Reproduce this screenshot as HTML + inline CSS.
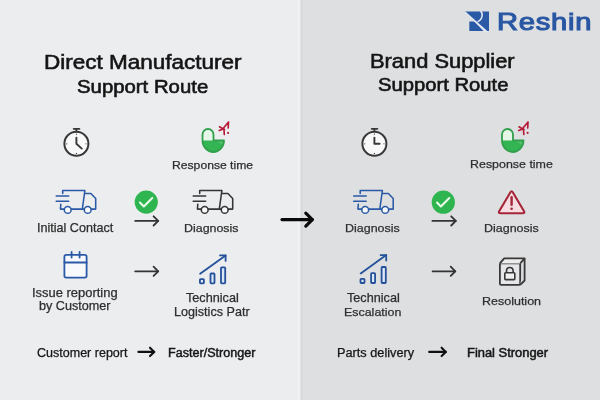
<!DOCTYPE html>
<html><head><meta charset="utf-8"><style>
html,body{margin:0;padding:0}
body{width:600px;height:400px;position:relative;overflow:hidden;font-family:"Liberation Sans",sans-serif;
background:linear-gradient(90deg,#ecedef 0px,#ecedef 296.6px,#f0f1f3 297.9px,#f0f1f3 299.8px,#dadbde 300.8px,#dadbde 302px,#dedfe1 303.5px,#dedfe1 600px)}
.t{position:absolute;white-space:nowrap;line-height:1;will-change:transform}
svg{position:absolute;left:0;top:0}
</style></head><body>
<svg width="600" height="400" viewBox="0 0 600 400">
<g fill="none" stroke="#383838" stroke-width="2" stroke-linecap="round">
<circle cx="76.4" cy="143.8" r="12" fill="#f9f9fa"/>
<line x1="76.4" y1="131.3" x2="76.4" y2="129.3" stroke-width="1.8"/>
<line x1="73.7" y1="128.8" x2="79.4" y2="128.8" stroke-width="1.8"/>
<polyline points="76.4,137.60000000000002 76.4,143.8 81.8,148.6" stroke-linejoin="round" stroke-width="1.9"/>
<g fill="#383838" stroke="none"><circle cx="76.4" cy="134.20000000000002" r="0.6"/><circle cx="76.4" cy="153.4" r="0.6"/>
<circle cx="66.80000000000001" cy="143.8" r="0.6"/><circle cx="86.0" cy="143.8" r="0.6"/></g>
</g><g fill="none" stroke="#383838" stroke-width="2" stroke-linecap="round">
<circle cx="374.4" cy="143.8" r="12" fill="#f9f9fa"/>
<line x1="374.4" y1="131.3" x2="374.4" y2="129.3" stroke-width="1.8"/>
<line x1="371.7" y1="128.8" x2="377.4" y2="128.8" stroke-width="1.8"/>
<polyline points="374.4,137.60000000000002 374.4,143.8 379.6,143.8" stroke-linejoin="round" stroke-width="1.9"/>
<g fill="#383838" stroke="none"><circle cx="374.4" cy="134.20000000000002" r="0.6"/><circle cx="374.4" cy="153.4" r="0.6"/>
<circle cx="364.79999999999995" cy="143.8" r="0.6"/><circle cx="384.0" cy="143.8" r="0.6"/></g>
</g><g transform="translate(201.5,128.5)">
<path d="M1,12 L1,6 A5.5,5.5 0 0 1 12,6 L12,12 Z" fill="#e6f6e6"/>
<path d="M1,12 L22.5,12 A10.75,11.5 0 0 1 1,12 Z" fill="#33b554"/>
<path d="M13,12 L22.5,12 A10.75,11.5 0 0 1 21.5,16.5 Q17,13.5 13,12 Z" fill="#6cca7e" opacity="0.6"/>
<path d="M1,12 L1,6 A5.5,5.5 0 0 1 12,6 L12,12 L22.5,12 A10.75,11.5 0 0 1 1,12 Z" fill="none" stroke="#319f4c" stroke-width="1.8" stroke-linejoin="round"/>
<g stroke="#b51b36" stroke-width="1.65" stroke-linecap="round" fill="none">
<path d="M27,-6.5 L21,0.8 M27,-6.5 L26.7,-0.5 M18,-1.7 L23,1.3 M17.7,2 L22.5,0.2 M22.5,1 L22.8,6"/>
</g>
<circle cx="26.6" cy="4.4" r="1.05" fill="#b51b36"/>
</g><g transform="translate(501,128.5)">
<path d="M1,12 L1,6 A5.5,5.5 0 0 1 12,6 L12,12 Z" fill="#e6f6e6"/>
<path d="M1,12 L22.5,12 A10.75,11.5 0 0 1 1,12 Z" fill="#33b554"/>
<path d="M13,12 L22.5,12 A10.75,11.5 0 0 1 21.5,16.5 Q17,13.5 13,12 Z" fill="#6cca7e" opacity="0.6"/>
<path d="M1,12 L1,6 A5.5,5.5 0 0 1 12,6 L12,12 L22.5,12 A10.75,11.5 0 0 1 1,12 Z" fill="none" stroke="#319f4c" stroke-width="1.8" stroke-linejoin="round"/>
<g stroke="#b51b36" stroke-width="1.65" stroke-linecap="round" fill="none">
<path d="M27,-6.5 L21,0.8 M27,-6.5 L26.7,-0.5 M18,-1.7 L23,1.3 M17.7,2 L22.5,0.2 M22.5,1 L22.8,6"/>
</g>
<circle cx="26.6" cy="4.4" r="1.05" fill="#b51b36"/>
</g><g transform="translate(62.7,190.5)" fill="none" stroke="#2a5aa6" stroke-width="1.55" stroke-linejoin="round" stroke-linecap="round">
<path d="M0,3 L0,0 L22.2,0 L19.6,18.6"/>
<path d="M-1.9,13.8 L-2.3,18.6 L1.6,18.6 M8.4,18.6 L21.6,18.6 M28.4,18.6 L33,18.6 L33,8 L28.2,3 L22.2,3"/>
<path d="M-6.5,5.5 L6,5.5 M-6.5,10.7 L6,10.7"/>
<circle cx="5" cy="19.4" r="3.4" fill="#fafafa"/>
<circle cx="25" cy="19.4" r="3.4" fill="#fafafa"/>
</g><g transform="translate(199.7,190.5)" fill="none" stroke="#353535" stroke-width="1.55" stroke-linejoin="round" stroke-linecap="round">
<path d="M0,3 L0,0 L22.2,0 L19.6,18.6"/>
<path d="M-1.9,13.8 L-2.3,18.6 L1.6,18.6 M8.4,18.6 L21.6,18.6 M28.4,18.6 L33,18.6 L33,8 L28.2,3 L22.2,3"/>
<path d="M-6.5,5.5 L6,5.5 M-6.5,10.7 L6,10.7"/>
<circle cx="5" cy="19.4" r="3.4" fill="#fafafa"/>
<circle cx="25" cy="19.4" r="3.4" fill="#fafafa"/>
</g><g transform="translate(360.2,190.5)" fill="none" stroke="#2a5aa6" stroke-width="1.55" stroke-linejoin="round" stroke-linecap="round">
<path d="M0,3 L0,0 L22.2,0 L19.6,18.6"/>
<path d="M-1.9,13.8 L-2.3,18.6 L1.6,18.6 M8.4,18.6 L21.6,18.6 M28.4,18.6 L33,18.6 L33,8 L28.2,3 L22.2,3"/>
<path d="M-6.5,5.5 L6,5.5 M-6.5,10.7 L6,10.7"/>
<circle cx="5" cy="19.4" r="3.4" fill="#fafafa"/>
<circle cx="25" cy="19.4" r="3.4" fill="#fafafa"/>
</g><circle cx="146.25" cy="202.1" r="11.6" fill="#2fb550"/>
<polyline points="139.95,202.5 143.85,206.4 152.25,197.9" fill="none" stroke="#e9fbe9" stroke-width="2.1" stroke-linecap="round" stroke-linejoin="round"/><circle cx="443.3" cy="202.2" r="11.6" fill="#2fb550"/>
<polyline points="437.0,202.6 440.90000000000003,206.5 449.3,198.0" fill="none" stroke="#e9fbe9" stroke-width="2.1" stroke-linecap="round" stroke-linejoin="round"/><g fill="none" stroke="#333" stroke-width="1.8" stroke-linecap="round" stroke-linejoin="round">
<line x1="135.2" y1="220.9" x2="158.2" y2="220.9"/><polyline points="153.6,216.3 158.2,220.9 153.6,225.5"/></g><g fill="none" stroke="#333" stroke-width="1.8" stroke-linecap="round" stroke-linejoin="round">
<line x1="432.4" y1="220.9" x2="455.8" y2="220.9"/><polyline points="451.2,216.3 455.8,220.9 451.2,225.5"/></g><g fill="none" stroke="#333" stroke-width="1.8" stroke-linecap="round" stroke-linejoin="round">
<line x1="135.2" y1="271.3" x2="158.2" y2="271.3"/><polyline points="153.6,266.7 158.2,271.3 153.6,275.90000000000003"/></g><g fill="none" stroke="#333" stroke-width="1.8" stroke-linecap="round" stroke-linejoin="round">
<line x1="432.6" y1="271.3" x2="455.3" y2="271.3"/><polyline points="450.7,266.7 455.3,271.3 450.7,275.90000000000003"/></g><g fill="none" stroke="#111" stroke-width="2.1" stroke-linecap="round" stroke-linejoin="round">
<line x1="138.4" y1="351.9" x2="154.2" y2="351.9"/><polyline points="150.0,347.7 154.2,351.9 150.0,356.09999999999997"/></g><g fill="none" stroke="#111" stroke-width="2.1" stroke-linecap="round" stroke-linejoin="round">
<line x1="429.2" y1="351.9" x2="445.8" y2="351.9"/><polyline points="441.6,347.7 445.8,351.9 441.6,356.09999999999997"/></g><g fill="none" stroke="#0a0a0a" stroke-width="3.2" stroke-linecap="round" stroke-linejoin="round">
<line x1="282" y1="219.6" x2="312.3" y2="219.6"/><polyline points="305.8,213.1 312.3,219.6 305.8,226.1"/></g><g fill="none" stroke="#2a5aa6" stroke-width="1.8" stroke-linecap="round">
<rect x="64.4" y="254.9" width="22.2" height="22.7" rx="1.8" fill="#f7f9fc"/>
<line x1="64.4" y1="262.5" x2="86.60000000000001" y2="262.5"/>
<line x1="71.6" y1="252" x2="71.6" y2="257.6"/>
<line x1="79.6" y1="252" x2="79.6" y2="257.6"/></g><g transform="translate(199,278.2)" fill="none" stroke="#24519a" stroke-width="1.8" stroke-linejoin="round" stroke-linecap="round">
<rect x="0.9" y="0.9" width="4" height="4.2" rx="0.7" fill="#dce8f6"/>
<rect x="11.5" y="-4.7" width="4" height="9.8" rx="0.7" fill="#dce8f6"/>
<rect x="22" y="-10.9" width="4.2" height="16" rx="0.7" fill="#dce8f6"/>
<line x1="1.1" y1="-4.5" x2="26.6" y2="-22.8"/>
<polyline points="21,-22.8 26.6,-22.8 26.6,-17.3"/></g><g transform="translate(359.6,277.9)" fill="none" stroke="#24519a" stroke-width="1.8" stroke-linejoin="round" stroke-linecap="round">
<rect x="0.9" y="0.9" width="4" height="4.2" rx="0.7" fill="#dce8f6"/>
<rect x="11.5" y="-4.7" width="4" height="9.8" rx="0.7" fill="#dce8f6"/>
<rect x="22" y="-10.9" width="4.2" height="16" rx="0.7" fill="#dce8f6"/>
<line x1="1.1" y1="-4.5" x2="26.6" y2="-22.8"/>
<polyline points="21,-22.8 26.6,-22.8 26.6,-17.3"/></g><g transform="translate(511.6,189.6)">
<path d="M-1.32,2.84 Q0.00,0.60 1.32,2.84 L12.28,21.36 Q13.60,23.60 11.00,23.60 L-11.00,23.60 Q-13.60,23.60 -12.28,21.36 Z" fill="#f5dde1" stroke="#a52638" stroke-width="2.1" stroke-linejoin="round"/>
<line x1="0" y1="7.6" x2="0" y2="15.2" stroke="#a52638" stroke-width="2.4" stroke-linecap="round"/>
<circle cx="0" cy="19.1" r="1.3" fill="#a52638"/></g><g transform="translate(499,262.5)" fill="none" stroke="#383838" stroke-width="1.8" stroke-linejoin="round">
<rect x="0.9" y="0.9" width="20.3" height="21.5" rx="1.2" fill="#e6e6e8"/>
<path d="M0.9,0.9 L5.2,-4.1 L25.6,-4.1 L21.2,0.9" fill="#ededee"/>
<path d="M25.6,-4.1 L25.6,18 L21.2,22.4" fill="#dcdcde"/>
<path d="M7.5,10.3 L7.5,8.3 A3.3,3.3 0 0 1 14.1,8.3 L14.1,10.3" stroke-width="1.6"/>
<rect x="5.8" y="10.3" width="10" height="6.8" rx="0.8" fill="#f1f1f2" stroke-width="1.6"/>
</g><g>
<path d="M465.1,11.4 L489,11.4 L489,31 L469.3,31 L469.3,21.4 L474.8,21.4 Z" fill="#2a5aa6"/>
<path d="M464.6,11.9 L465.4,11.5 L488.4,32 L484.6,32 Z" fill="#e6ebf3"/>
<path d="M480.4,10.8 C483.2,13 483,19.4 477.6,21.8" fill="none" stroke="#e6ebf3" stroke-width="1.5"/>
</g>
</svg>
<div class="t" style="left:43.58px;top:51.79px;font-size:20.4px;color:#141414;font-weight:400;letter-spacing:0px;-webkit-text-stroke:0.6px #141414;transform-origin:0 0;transform:scaleX(1.1034)">Direct Manufacturer</div>
<div class="t" style="left:77.20px;top:77.95px;font-size:18.8px;color:#141414;font-weight:400;letter-spacing:0px;-webkit-text-stroke:0.6px #141414;transform-origin:0 0;transform:scaleX(1.0833)">Support Route</div>
<div class="t" style="left:370.08px;top:51.40px;font-size:20.2px;color:#141414;font-weight:400;letter-spacing:0px;-webkit-text-stroke:0.6px #141414;transform-origin:0 0;transform:scaleX(1.0827)">Brand Supplier</div>
<div class="t" style="left:378.08px;top:76.44px;font-size:18.6px;color:#141414;font-weight:400;letter-spacing:0px;-webkit-text-stroke:0.6px #141414;transform-origin:0 0;transform:scaleX(1.0882)">Support Route</div>
<div class="t" style="left:171.70px;top:159.02px;font-size:11.65px;color:#2e2e2e;font-weight:400;letter-spacing:0px;-webkit-text-stroke:0.25px #2e2e2e;transform-origin:0 0;transform:scaleX(1.0443)">Response time</div>
<div class="t" style="left:469.52px;top:158.46px;font-size:11.65px;color:#2e2e2e;font-weight:400;letter-spacing:0px;-webkit-text-stroke:0.25px #2e2e2e;transform-origin:0 0;transform:scaleX(1.0675)">Response time</div>
<div class="t" style="left:37.20px;top:223.45px;font-size:11.85px;color:#2e2e2e;font-weight:400;letter-spacing:0px;-webkit-text-stroke:0.25px #2e2e2e;transform-origin:0 0;transform:scaleX(1.0613)">Initial Contact</div>
<div class="t" style="left:184.46px;top:221.96px;font-size:11.65px;color:#2e2e2e;font-weight:400;letter-spacing:0px;-webkit-text-stroke:0.25px #2e2e2e;transform-origin:0 0;transform:scaleX(1.0674)">Diagnosis</div>
<div class="t" style="left:345.02px;top:221.96px;font-size:11.65px;color:#2e2e2e;font-weight:400;letter-spacing:0px;-webkit-text-stroke:0.25px #2e2e2e;transform-origin:0 0;transform:scaleX(1.0711)">Diagnosis</div>
<div class="t" style="left:483.64px;top:221.96px;font-size:11.65px;color:#2e2e2e;font-weight:400;letter-spacing:0px;-webkit-text-stroke:0.25px #2e2e2e;transform-origin:0 0;transform:scaleX(1.0711)">Diagnosis</div>
<div class="t" style="left:32.02px;top:288.36px;font-size:11.95px;color:#2e2e2e;font-weight:400;letter-spacing:0px;-webkit-text-stroke:0.25px #2e2e2e;transform-origin:0 0;transform:scaleX(1.0838)">Issue reporting</div>
<div class="t" style="left:38.58px;top:301.18px;font-size:11.95px;color:#2e2e2e;font-weight:400;letter-spacing:0px;-webkit-text-stroke:0.25px #2e2e2e;transform-origin:0 0;transform:scaleX(1.0564)">by Customer</div>
<div class="t" style="left:186.38px;top:293.42px;font-size:11.95px;color:#2e2e2e;font-weight:400;letter-spacing:0px;-webkit-text-stroke:0.25px #2e2e2e;transform-origin:0 0;transform:scaleX(1.0604)">Technical</div>
<div class="t" style="left:174.02px;top:306.80px;font-size:11.95px;color:#2e2e2e;font-weight:400;letter-spacing:0px;-webkit-text-stroke:0.25px #2e2e2e;transform-origin:0 0;transform:scaleX(1.0555)">Logistics Patr</div>
<div class="t" style="left:347.25px;top:292.68px;font-size:11.95px;color:#2e2e2e;font-weight:400;letter-spacing:0px;-webkit-text-stroke:0.25px #2e2e2e;transform-origin:0 0;transform:scaleX(1.0600)">Technical</div>
<div class="t" style="left:344.02px;top:305.89px;font-size:11.65px;color:#2e2e2e;font-weight:400;letter-spacing:0px;-webkit-text-stroke:0.25px #2e2e2e;transform-origin:0 0;transform:scaleX(1.0674)">Escalation</div>
<div class="t" style="left:481.95px;top:295.27px;font-size:11.65px;color:#2e2e2e;font-weight:400;letter-spacing:0px;-webkit-text-stroke:0.25px #2e2e2e;transform-origin:0 0;transform:scaleX(1.0733)">Resolution</div>
<div class="t" style="left:37.06px;top:346.90px;font-size:12.0px;color:#161616;font-weight:400;letter-spacing:0px;-webkit-text-stroke:0.25px #161616;transform-origin:0 0;transform:scaleX(1.0435)">Customer report</div>
<div class="t" style="left:167.70px;top:346.71px;font-size:12.3px;color:#161616;font-weight:400;letter-spacing:0px;-webkit-text-stroke:0.45px #161616;transform-origin:0 0;transform:scaleX(1.0239)">Faster/Stronger</div>
<div class="t" style="left:336.64px;top:346.90px;font-size:12.0px;color:#161616;font-weight:400;letter-spacing:0px;-webkit-text-stroke:0.25px #161616;transform-origin:0 0;transform:scaleX(1.0609)">Parts delivery</div>
<div class="t" style="left:466.52px;top:346.71px;font-size:12.3px;color:#161616;font-weight:400;letter-spacing:0px;-webkit-text-stroke:0.5px #161616;transform-origin:0 0;transform:scaleX(1.0496)">Final Stronger</div>
<div class="t" style="left:497.30px;top:10.79px;font-size:23.4px;color:#2957a3;font-weight:400;letter-spacing:0.6px;-webkit-text-stroke:1.05px #2957a3;transform:scaleX(1.245);transform-origin:0 0">Reshin</div>

</body></html>
